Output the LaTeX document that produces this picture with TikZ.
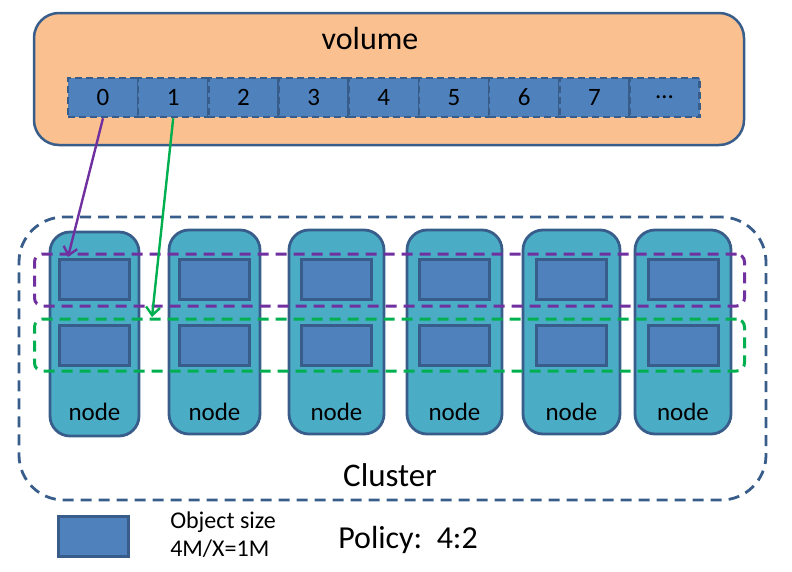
\documentclass[tikz,border=0pt]{standalone}
\usepackage{fontspec}
\setmainfont{Carlito}
\usetikzlibrary{positioning,arrows.meta}
\definecolor{peach}{HTML}{FAC090}
\definecolor{objblue}{HTML}{4F81BD}
\definecolor{edgeblue}{HTML}{385D8A}
\definecolor{nodecyan}{HTML}{4BACC6}
\definecolor{grpurple}{HTML}{7030A0}
\definecolor{grgreen}{HTML}{00B050}
\begin{document}
\begin{tikzpicture}[x=1pt,y=-1pt,line width=2.5pt,
    volbox/.style={draw=edgeblue,fill=peach,rounded corners=25pt,minimum width=710pt,minimum height=132pt},
    cell/.style={draw=edgeblue,fill=objblue,dash pattern=on 7pt off 4pt,inner sep=0pt,minimum width=70.2pt,minimum height=39pt,font=\fontsize{25}{30}\selectfont},
    clusterbox/.style={draw=edgeblue,dash pattern=on 11pt off 7pt,line width=2.8pt,rounded corners=45pt,minimum width=747pt,minimum height=283pt},
    hostbox/.style={draw=edgeblue,fill=nodecyan,line width=2.8pt,rounded corners=20pt,minimum height=204pt},
    objbox/.style={draw=edgeblue,fill=objblue,line width=3pt,minimum width=70pt,minimum height=40pt},
    group/.style={dash pattern=on 11pt off 7pt,line width=3pt,rounded corners=8pt,minimum width=710pt,minimum height=52pt},
    lbl/.style={font=\fontsize{25}{30}\selectfont},
    link/.style={-{Straight Barb[length=8pt,width=14pt]},line width=2.4pt}]

    \useasboundingbox (0,0) rectangle (792,571);

    % volume and its chunks
    \node [volbox] (volume) at (389,79) {};
    \node [font=\fontsize{32}{38}\selectfont] (voltitle) at (370,39) {volume};
    \foreach \i/\t in {0/0,1/1,2/2,3/3,4/4,5/5,6/6,7/7,8/\ldots}
        \node [cell] (c\i) at ({103+70.2*\i},97.5) {\t};

    % cluster of storage nodes
    \node [clusterbox] (cluster) at (392.5,358.5) {};
    \foreach \n/\x/\y/\w in {1/94.5/334/89,2/214.5/332/91,3/336.5/332/95,4/454.5/332/95,5/571.5/332/97,6/683/332/96} {
        \node [hostbox,minimum width=\w pt] (n\n) at (\x,\y) {};
        \node [objbox] (o\n a) at (\x,279) {};
        \node [objbox] (o\n b) at (\x,345) {};
        \node [lbl] (l\n) at (\x,412) {node};
    }
    \node [group,draw=grpurple] (pg) at (389.5,280) {};
    \node [group,draw=grgreen] (gg) at (389.5,345) {};
    \node [font=\fontsize{33}{40}\selectfont] (clustertitle) at (390,475) {Cluster};

    \coordinate (p0) at (68,257);
    \coordinate (p1) at (152,317);
    \draw [link,grpurple] (c0.south) -- (p0);
    \draw [link,grgreen] (c1.south) -- (p1);

    % legend
    \node [objbox] (legend) at (93.5,536.5) {};
    \node [anchor=west,inner sep=0pt,font=\fontsize{24}{28}\selectfont] (objsize) at (169,522) {Object size};
    \node [anchor=west,inner sep=0pt,font=\fontsize{24}{28}\selectfont] (objcalc) at (169,549) {4M/X=1M};
    \node [anchor=west,inner sep=0pt,font=\fontsize{32}{38}\selectfont] (policy) at (337,540) {Policy:\ \ 4:2};

\end{tikzpicture}
\end{document}
